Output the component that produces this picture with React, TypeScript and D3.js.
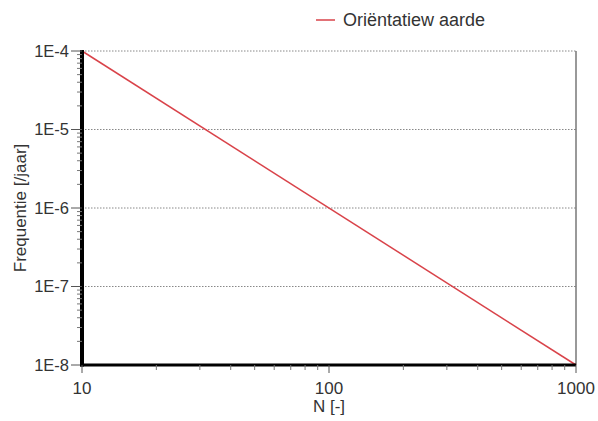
import React from "react";
import * as d3 from "d3";

const xDomain = [10, 1000];
const yDomain = [1e-8, 1e-4];
const xTickValues = [10, 100, 1000];
const xTickLabels = ["10", "100", "1000"];
const yTickValues = [1e-8, 1e-7, 1e-6, 1e-5, 1e-4];
const yTickLabels = ["1E-8", "1E-7", "1E-6", "1E-5", "1E-4"];
const seriesName = "Oriëntatiew aarde";
const seriesN = [10, 1000];
const seriesF = [1e-4, 1e-8];

const W = 598, H = 421;
const M = { left: 82, right: 22, top: 51, bottom: 56 };

export default function App() {
  const x = d3.scaleLog().domain(xDomain).range([M.left, W - M.right]);
  const y = d3.scaleLog().domain(yDomain).range([H - M.bottom, M.top]);
  const pts = seriesN.map((n, i) => [x(n), y(seriesF[i])] as [number, number]);
  const line = d3.line()(pts) || "";

  const xMinor: number[] = [];
  const yMinor: number[] = [];
  for (let d = 10; d < 1000; d *= 10) for (let k = 2; k <= 9; k++) xMinor.push(d * k);
  for (let e = -8; e < -4; e++) for (let k = 2; k <= 9; k++) yMinor.push(k * Math.pow(10, e));

  const x0 = M.left, x1 = W - M.right, y0 = H - M.bottom, y1 = M.top;
  const font = "Arial, 'Liberation Sans', sans-serif";
  const txt = "#333";

  return (
    <svg width={W} height={H} style={{ position: "absolute", left: 0, top: 0, background: "#fff" }} fontFamily={font}>
      {/* gridlines */}
      {yTickValues.map((v) => (
        <line key={"g" + v} x1={x0} x2={x1} y1={y(v)} y2={y(v)} stroke="#888" strokeWidth={1} strokeDasharray="1.5,1.5" />
      ))}
      {/* right border */}
      <line x1={x1} x2={x1} y1={y1} y2={y0} stroke="#555" strokeWidth={1.2} />
      {/* series */}
      <path d={line} fill="none" stroke="#d9434a" strokeWidth={1.5} />
      {/* y axis */}
      <line x1={x0} x2={x0} y1={y1 - 1} y2={y0 + 1.5} stroke="#000" strokeWidth={4} />
      {yTickValues.map((v) => (
        <line key={"yt" + v} x1={x0 - 11} x2={x0} y1={y(v)} y2={y(v)} stroke="#555" strokeWidth={1} />
      ))}
      {yMinor.map((v) => (
        <line key={"ym" + v} x1={x0 - 5} x2={x0} y1={y(v)} y2={y(v)} stroke="#777" strokeWidth={1} />
      ))}
      {yTickValues.map((v, i) => (
        <text key={"yl" + v} x={x0 - 13} y={y(v)} dy="0.35em" textAnchor="end" fontSize={16.5} fill={txt}>
          {yTickLabels[i]}
        </text>
      ))}
      {/* x axis */}
      <line x1={x0 - 2} x2={x1} y1={y0} y2={y0} stroke="#000" strokeWidth={3} />
      {xTickValues.map((v) => (
        <line key={"xt" + v} x1={x(v)} x2={x(v)} y1={y0} y2={y0 + 8} stroke="#555" strokeWidth={1} />
      ))}
      {xMinor.map((v) => (
        <line key={"xm" + v} x1={x(v)} x2={x(v)} y1={y0} y2={y0 + 5} stroke="#777" strokeWidth={1} />
      ))}
      {xTickValues.map((v, i) => (
        <text key={"xl" + v} x={x(v)} y={y0 + 23} dy="0.35em" textAnchor="middle" fontSize={17} fill={txt}>
          {xTickLabels[i]}
        </text>
      ))}
      {/* axis titles */}
      <text x={(x0 + x1) / 2} y={y0 + 41} dy="0.35em" textAnchor="middle" fontSize={17} fill={txt}>N [-]</text>
      <text transform={`translate(20,${(y0 + y1) / 2}) rotate(-90)`} dy="0.35em" textAnchor="middle" fontSize={17} fill={txt}>
        Frequentie [/jaar]
      </text>
      {/* legend */}
      <line x1={316} x2={335} y1={20} y2={20} stroke="#d9434a" strokeWidth={1.5} />
      <text x={343} y={20} dy="0.35em" fontSize={18} fill={txt}>{seriesName}</text>
    </svg>
  );
}
